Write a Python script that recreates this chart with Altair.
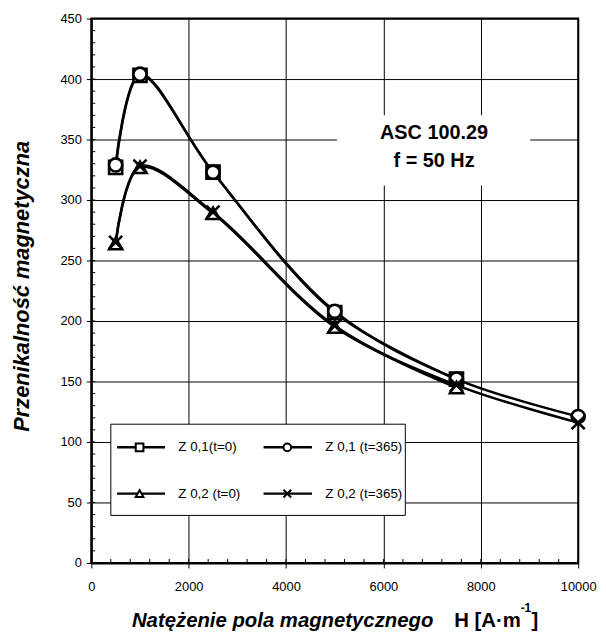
import altair as alt
import pandas as pd

# ---- data ----
H = [500, 1000, 2500, 5000, 7500, 10000]
z01_t0 = [327, 403, 323, 207, 152]
z01_t365 = [329, 404, 323, 208, 152, 121]
z02_t0 = [264, 327, 289, 195, 145]
z02_t365 = [265, 328, 290, 196, 147, 116]

names = ["Z 0,1(t=0)", "Z 0,1 (t=365)", "Z 0,2 (t=0)", "Z 0,2 (t=365)"]
series = [z01_t0, z01_t365, z02_t0, z02_t365]

X_TICKS = list(range(0, 10001, 2000))
Y_TICKS = list(range(0, 451, 50))
X_MINOR = list(range(0, 10001, 400))
Y_MINOR = list(range(0, 451, 10))

ANNOT = ["ASC 100.29", "f = 50 Hz"]

rows = []
for n, vals in zip(names, series):
    for h, v in zip(H, vals):
        rows.append({"H": h, "mu": v, "s": n})
df = pd.DataFrame(rows)

FONT = "Liberation Sans"
CROSS = "M-1,-1L1,1M-1,1L1,-1"
W, HGT = 491, 549

xs = alt.Scale(domain=[0, 10000], nice=False, zero=True)
ys = alt.Scale(domain=[0, 450], nice=False, zero=True)
shape_scale = alt.Scale(domain=names, range=["square", "circle", "triangle-up", CROSS])

xaxis = alt.Axis(values=X_TICKS, title=None, grid=True, tickSize=5, labelPadding=13,
                 format="d", labelFlush=False)
yaxis = alt.Axis(values=Y_TICKS, title=None, grid=True, tickSize=5, labelPadding=5,
                 format="d")

base = alt.Chart(df)

lines = base.mark_line(interpolate="catmull-rom", color="black", strokeWidth=2.5).encode(
    x=alt.X("H:Q", scale=xs, axis=xaxis),
    y=alt.Y("mu:Q", scale=ys, axis=yaxis),
    detail="s:N",
)

points = base.mark_point(filled=True, fill="white", stroke="black", strokeWidth=2.6,
                         size=175, opacity=1).encode(
    x=alt.X("H:Q", scale=xs),
    y=alt.Y("mu:Q", scale=ys),
    shape=alt.Shape("s:N", scale=shape_scale, legend=None),
)

# minor ticks (inward)
yminor = alt.Chart(pd.DataFrame({"v": Y_MINOR})).mark_rule(color="black", strokeWidth=1).encode(
    y=alt.Y("v:Q", scale=ys), x=alt.value(0), x2=alt.value(4)
)
xminor = alt.Chart(pd.DataFrame({"v": X_MINOR})).mark_rule(color="black", strokeWidth=1).encode(
    x=alt.X("v:Q", scale=xs), y=alt.value(HGT), y2=alt.value(HGT - 4)
)

# annotation box (data coordinates)
ann_box = alt.Chart(pd.DataFrame({"x": [5045], "x2": [9016], "y": [370], "y2": [312]})).mark_rect(
    fill="white").encode(
    x=alt.X("x:Q", scale=xs), x2="x2:Q", y=alt.Y("y:Q", scale=ys), y2="y2:Q")
ann_text = alt.Chart(pd.DataFrame({"x": [7040, 7040], "y": [350.5, 327], "t": ANNOT})).mark_text(
    font=FONT, fontSize=20, fontWeight="bold", color="black", align="center", baseline="alphabetic"
).encode(x=alt.X("x:Q", scale=xs), y=alt.Y("y:Q", scale=ys), text="t:N")

# legend (manual, positions in data coordinates)
LEG_BOX = dict(x=[401], x2=[6450], y=[114.7], y2=[39.3])
leg_box = alt.Chart(pd.DataFrame(LEG_BOX)).mark_rect(fill="white", stroke="black", strokeWidth=1).encode(
    x=alt.X("x:Q", scale=xs), x2="x2:Q", y=alt.Y("y:Q", scale=ys), y2="y2:Q")
leg_rows = []
pos = [(530, 1515, 992, 1786, 95.6), (3538, 4532, 4026, 4807, 95.6),
       (530, 1515, 992, 1786, 57.3), (3538, 4532, 4026, 4807, 57.3)]
for n, (a, b, m, t, yy) in zip(names, pos):
    leg_rows.append({"s": n, "xa": a, "xb": b, "xm": m, "xt": t, "y": yy})
ldf = pd.DataFrame(leg_rows)
leg_lines = alt.Chart(ldf).mark_rule(color="black", strokeWidth=2.5).encode(
    x=alt.X("xa:Q", scale=xs), x2="xb:Q", y=alt.Y("y:Q", scale=ys))
leg_pts = alt.Chart(ldf).mark_point(filled=True, fill="white", stroke="black", strokeWidth=2,
                                    size=60, opacity=1).encode(
    x=alt.X("xm:Q", scale=xs), y=alt.Y("y:Q", scale=ys),
    shape=alt.Shape("s:N", scale=shape_scale, legend=None))
leg_text = alt.Chart(ldf).mark_text(font=FONT, fontSize=13.5, color="black", align="left",
                                    baseline="middle").encode(
    x=alt.X("xt:Q", scale=xs), y=alt.Y("y:Q", scale=ys), text="s:N")

# axis titles
title_df = pd.DataFrame({"t": ["x"]})
ytitle = alt.Chart(title_df).mark_text(
    text="Przenikalność magnetyczna", font=FONT, fontSize=22, fontWeight="bold", fontStyle="italic",
    angle=270, align="center", baseline="alphabetic", color="black"
).encode(x=alt.value(-63), y=alt.value(270))
xtitle1 = alt.Chart(title_df).mark_text(
    text="Natężenie pola magnetycznego", font=FONT, fontSize=20.5, fontWeight="bold", fontStyle="italic",
    align="left", baseline="alphabetic", color="black"
).encode(x=alt.value(41), y=alt.value(614))
xtitle2 = alt.Chart(title_df).mark_text(
    text="H [A·m", font=FONT, fontSize=20.5, fontWeight="bold",
    align="left", baseline="alphabetic", color="black"
).encode(x=alt.value(366), y=alt.value(614))
xtitle3 = alt.Chart(title_df).mark_text(
    text="-1", font=FONT, fontSize=12, fontWeight="bold",
    align="left", baseline="alphabetic", color="black"
).encode(x=alt.value(433), y=alt.value(598))
xtitle4 = alt.Chart(title_df).mark_text(
    text="]", font=FONT, fontSize=20.5, fontWeight="bold",
    align="left", baseline="alphabetic", color="black"
).encode(x=alt.value(444), y=alt.value(614))

chart = alt.layer(
    ann_box, ann_text, leg_box, yminor, xminor, lines, points,
    leg_lines, leg_pts, leg_text, ytitle, xtitle1, xtitle2, xtitle3, xtitle4
).properties(
    width=W, height=HGT,
    autosize="none",
    padding={"left": 84, "top": 8, "right": 20, "bottom": 70},
).configure_view(
    stroke="black", strokeWidth=2
).configure_axis(
    labelFont=FONT, labelFontSize=13, labelColor="black",
    domainColor="black", domainWidth=2, tickColor="black", tickWidth=1,
    gridColor="black", gridWidth=1, gridOpacity=1,
)

chart.save("out.html", embed_options={"renderer": "svg", "actions": False})
